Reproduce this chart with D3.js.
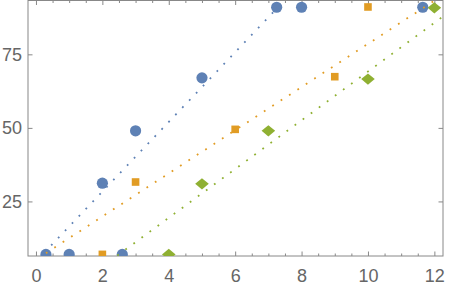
<!DOCTYPE html>
<html>
<head>
<meta charset="utf-8">
<script src="https://cdn.jsdelivr.net/npm/d3@7"></script>
<style>
	body { margin: 0; background: #fff; }
	svg { display: block; }
	.tick text { font-family: "Liberation Sans", Arial, sans-serif; font-size: 18px; fill: #666; }
</style>
</head>
<body>
<svg id="chart" width="452" height="289"></svg>
<script>

// series values
const blueX = [0.3, 1, 2, 2.6, 3, 5, 7.25, 8, 11.65];
const blueY = [7, 7, 31.2, 7, 49, 67, 91, 91, 91];
const orangeX = [2, 3, 6, 9, 10];
const orangeY = [7, 31.6, 49.5, 67.4, 91.1];
const greenX = [4, 5, 7, 10, 12];
const greenY = [7, 31, 49, 66.6, 90.8];

// dotted trend lines, [start, end] in data units
const blueLine = [[0.25, 7.6], [7.5, 93.5]];
const orangeLine = [[0.3, 7.4], [12.05, 93.6]];
const greenLine = [[2.45, 6.6], [12.3, 88.2]];

const xTicks = [0, 2, 4, 6, 8, 10, 12];
const yTicks = [25, 50, 75];

const colors = { blue: '#5e81b5', orange: '#e19c24', green: '#8fb032' };

const svg = d3.select('#chart');
const pLeft = 28, pRight = 443, pTop = 0.5, pBottom = 256;

const x = d3.scaleLinear().domain([-0.24, 12.26]).range([pLeft, pRight]);
const y = d3.scaleLinear().domain([6.45, 93.3]).range([pBottom, pTop]);

svg.append('defs').append('clipPath').attr('id', 'plotclip')
	.append('rect')
	.attr('x', pLeft).attr('y', pTop)
	.attr('width', pRight - pLeft).attr('height', pBottom - pTop);

const xMinor = d3.range(0, 12.01, 0.5).filter(d => d % 2 !== 0);

function styleAxis(g) {
	g.select('.domain').remove();
	g.selectAll('.tick line').attr('stroke', '#888');
}

// bottom
svg.append('g').attr('transform', `translate(0,${pBottom})`)
	.call(d3.axisBottom(x).tickValues(xTicks).tickSize(-4.5).tickPadding(13).tickFormat(d3.format('d')))
	.call(styleAxis);
svg.append('g').attr('transform', `translate(0,${pBottom})`)
	.call(d3.axisBottom(x).tickValues(xMinor).tickSize(-2.5).tickFormat(''))
	.call(styleAxis);
// top
svg.append('g').attr('transform', `translate(0,${pTop})`)
	.call(d3.axisTop(x).tickValues(xTicks).tickSize(-4.5).tickFormat(''))
	.call(styleAxis);
svg.append('g').attr('transform', `translate(0,${pTop})`)
	.call(d3.axisTop(x).tickValues(xMinor).tickSize(-2.5).tickFormat(''))
	.call(styleAxis);
// left
svg.append('g').attr('transform', `translate(${pLeft},0)`)
	.call(d3.axisLeft(y).tickValues(yTicks).tickSize(-4.5).tickPadding(6).tickFormat(d3.format('d')))
	.call(styleAxis);
// right
svg.append('g').attr('transform', `translate(${pRight},0)`)
	.call(d3.axisRight(y).tickValues(yTicks).tickSize(-4.5).tickFormat(''))
	.call(styleAxis);

svg.append('rect')
	.attr('x', pLeft).attr('y', pTop)
	.attr('width', pRight - pLeft).attr('height', pBottom - pTop)
	.attr('fill', 'none').attr('stroke', '#888').attr('stroke-width', 1);

const plot = svg.append('g').attr('clip-path', 'url(#plotclip)');

// markers
plot.selectAll('circle.blue').data(d3.zip(blueX, blueY)).join('circle')
	.attr('class', 'blue')
	.attr('cx', d => x(d[0])).attr('cy', d => y(d[1])).attr('r', 5.6)
	.attr('fill', colors.blue);

plot.selectAll('rect.orange').data(d3.zip(orangeX, orangeY)).join('rect')
	.attr('class', 'orange')
	.attr('x', d => x(d[0]) - 3.8).attr('y', d => y(d[1]) - 3.8)
	.attr('width', 7.6).attr('height', 7.6)
	.attr('fill', colors.orange);

plot.selectAll('path.green').data(d3.zip(greenX, greenY)).join('path')
	.attr('class', 'green')
	.attr('d', d => {
		const cx = x(d[0]), cy = y(d[1]);
		return `M${cx - 6.8},${cy}L${cx},${cy - 5.6}L${cx + 6.8},${cy}L${cx},${cy + 5.6}Z`;
	})
	.attr('fill', colors.green);

// dotted lines on top
const line = d3.line().x(d => x(d[0])).y(d => y(d[1]));
[[blueLine, colors.blue], [orangeLine, colors.orange], [greenLine, colors.green]].forEach(([pts, c]) => {
	plot.append('path')
		.attr('d', line(pts))
		.attr('fill', 'none')
		.attr('stroke', c)
		.attr('stroke-width', 1.8)
		.attr('stroke-dasharray', '1.8 8.2');
});

</script>
</body>
</html>
